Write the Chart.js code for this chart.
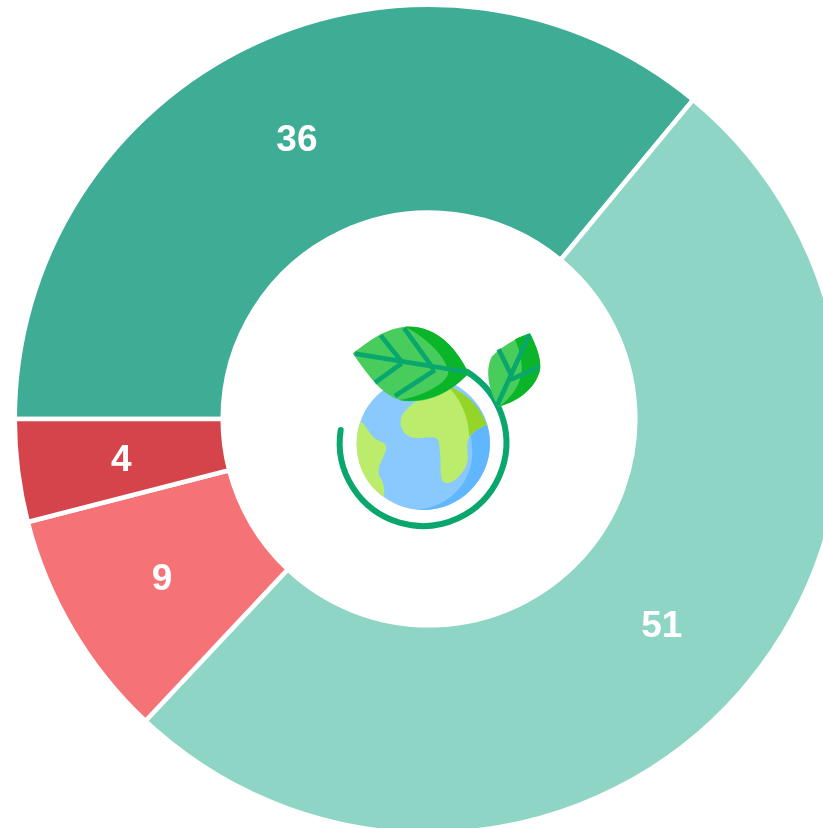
<!DOCTYPE html>
<html>
<head>
<meta charset="utf-8">
<title>Donut</title>
<script src="https://cdn.jsdelivr.net/npm/chart.js@4"></script>
<style>
html, body { margin: 0; padding: 0; background: #fff; overflow: hidden; }
#wrap { position: relative; width: 823px; height: 828px; overflow: hidden; }
#donut { position: absolute; left: 0; top: 0; }
#icon { position: absolute; left: 320px; top: 310px; width: 240px; height: 240px; }
</style>
</head>
<body>
<div id="wrap">
<canvas id="donut" width="858" height="838"></canvas>
<svg id="icon" viewBox="0 0 720 720">
  <circle cx="310" cy="400" r="200" fill="#8ac9fe"/>
  <path d="M290 600 C400 590 470 500 455 400 C450 340 420 270 370 225 C460 250 510 320 510 400 C510 510 420 600 310 600 Z" fill="#60b7ff"/>
  <path d="M122 332 C150 360 150 385 185 395 C205 405 200 420 190 440 C175 470 170 490 185 510 C195 530 193 545 192 562 C140 525 110 470 110 400 C110 375 114 352 122 332 Z" fill="#bbec6c"/>
  <path d="M280 280 L380 225 C440 250 480 290 500 345 C470 355 445 375 442 400 C440 430 450 450 435 475 C420 500 395 525 375 518 C355 510 365 470 360 430 C358 400 358 385 340 382 C315 380 285 390 265 378 C240 365 235 330 250 310 C258 298 270 288 280 280 Z" fill="#bbec6c"/>
  <path d="M380 225 C440 250 480 290 500 345 C480 352 460 365 448 380 C445 320 425 270 380 225 Z" fill="#95d528"/>
  <path d="M62 360 A250 250 0 1 0 440 185" fill="none" stroke="#09a76d" stroke-width="18" stroke-linecap="round"/>
  <path d="M98 130 C145 95 195 52 265 50 C350 48 410 115 446 190 C400 240 330 284 250 272 C190 264 140 190 98 130 Z" fill="#48cc5c"/>
  <path d="M255 50 C350 45 410 115 446 190 C400 240 330 284 235 270 C300 262 385 220 385 185 C375 135 320 85 255 50 Z" fill="#0ab52a"/>
  <g fill="none" stroke="#09a76d" stroke-width="14">
    <path d="M104 131 L440 186"/>
    <path d="M182 76 L245 155"/>
    <path d="M252 54 L340 176"/>
    <path d="M165 218 L245 160"/>
    <path d="M225 258 L345 180"/>
  </g>
  <path d="M630 70 C650 110 665 150 660 180 C645 240 590 275 535 290 C505 240 495 180 515 140 C550 105 590 85 630 70 Z" fill="#48cc5c"/>
  <path d="M630 70 C650 110 665 150 660 180 C645 240 590 275 535 290 C575 265 610 215 605 165 C602 130 592 105 585 88 C600 80 615 75 630 70 Z" fill="#0ab52a"/>
  <g fill="none" stroke="#09a76d" stroke-width="14">
    <path d="M628 74 L532 285"/>
    <path d="M536 118 L575 198"/>
    <path d="M658 170 L570 210"/>
  </g>
</svg>
</div>
<script>
const categories = ['Slice A', 'Slice B', 'Slice C', 'Slice D'];
const sliceValues = [36, 51, 9, 4];
const sliceColors = ['#3fad96', '#8fd5c6', '#f57377', '#d6444b'];

// draws the value on top of each slice
const valueLabels = {
    id: 'valueLabels',
    afterDatasetsDraw(chart) {
        const ctx = chart.ctx;
        const arcs = chart.getDatasetMeta(0).data;
        ctx.save();
        ctx.fillStyle = '#fff';
        ctx.font = 'bold 37px "Liberation Sans", Arial, sans-serif';
        ctx.textAlign = 'center';
        ctx.textBaseline = 'middle';
        arcs.forEach((arc, i) => {
            const pos = arc.tooltipPosition();
            ctx.fillText(sliceValues[i], pos.x, pos.y + 3);
        });
        ctx.restore();
    }
};

new Chart(document.getElementById('donut').getContext('2d'), {
    type: 'doughnut',
    data: {
        labels: categories,
        datasets: [{ data: sliceValues, backgroundColor: sliceColors, borderColor: '#fff', borderWidth: 4.5 }]
    },
    options: {
        responsive: false,
        animation: false,
        rotation: -90,
        cutout: '49.8%',
        layout: { padding: 2.5 },
        plugins: { legend: { display: false }, tooltip: { enabled: false } }
    },
    plugins: [valueLabels]
});
</script>
</body>
</html>
